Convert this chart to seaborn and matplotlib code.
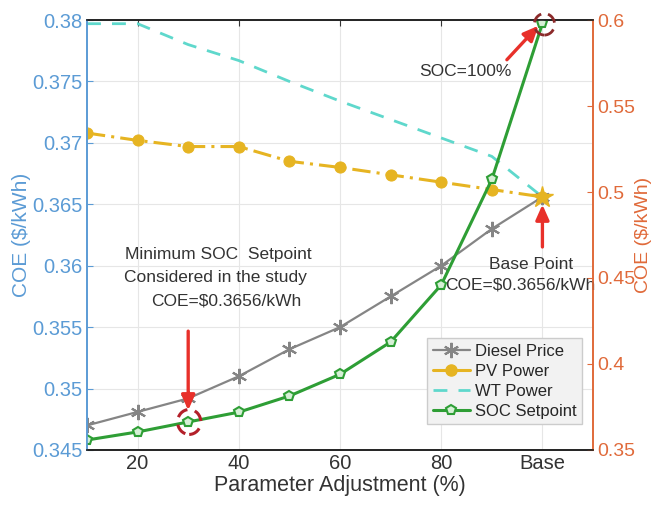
import numpy as np
import pandas as pd
import matplotlib
matplotlib.use("Agg")
import matplotlib.pyplot as plt
from matplotlib.lines import Line2D
from matplotlib.patches import Ellipse
import seaborn as sns

# Parameter adjustment levels (100 = base case)
adjust = [10, 20, 30, 40, 50, 60, 70, 80, 90, 100]
tick_pos = [20, 40, 60, 80, 100]
tick_labels = ["20", "40", "60", "80", "Base"]

# Cost of energy ($/kWh), left axis
diesel_price = [0.3470, 0.3481, 0.3492, 0.3510, 0.3532, 0.3550, 0.3575, 0.3600, 0.3630, 0.3656]
pv_power = [0.3708, 0.3702, 0.3697, 0.3697, 0.3685, 0.3680, 0.3674, 0.3668, 0.3662, 0.3656]
wt_power = [0.3797, 0.3797, 0.3780, 0.3767, 0.3750, 0.3734, 0.3719, 0.3704, 0.3689, 0.3656]
# Cost of energy ($/kWh), right axis
soc_setpoint = [0.3558, 0.3605, 0.3663, 0.3720, 0.3814, 0.3940, 0.4128, 0.4460, 0.5073, 0.5980]

c_left = "#5b9bd5"
c_right = "#e06a3a"
c_diesel = "#858585"
c_pv = "#e6b422"
c_wt = "#5fd8cc"
c_soc = "#2e9e35"
c_red = "#e8302a"

sns.set_style("whitegrid", {"grid.color": "#e6e6e6"})
plt.rcParams["font.family"] = ["Liberation Sans", "DejaVu Sans"]

df = pd.DataFrame({"adjust": adjust, "diesel": diesel_price, "pv": pv_power,
                   "wt": wt_power, "soc": soc_setpoint})

fig = plt.figure(figsize=(6.56, 5.08), dpi=100)
ax = fig.add_axes([0.1326, 0.1142, 0.7714, 0.8464])
ax2 = ax.twinx()

asterisk = (6, 2, 0)
sns.lineplot(data=df, x="adjust", y="wt", ax=ax, color=c_wt, lw=2.0,
             linestyle=(0, (5, 4)), legend=False)
sns.lineplot(data=df, x="adjust", y="pv", ax=ax, color=c_pv, lw=2.2,
             linestyle=(0, (6, 2, 1, 2)), marker="o", markersize=8,
             markeredgecolor=c_pv, legend=False)
sns.lineplot(data=df, x="adjust", y="diesel", ax=ax, color=c_diesel, lw=1.6,
             marker=asterisk, markersize=11, markeredgecolor=c_diesel,
             markeredgewidth=1.5, legend=False)
# base point marker
ax.plot([100], [pv_power[-1]], marker="*", markersize=16, color=c_pv,
        markeredgecolor=c_pv, zorder=5)

sns.lineplot(data=df, x="adjust", y="soc", ax=ax2, color=c_soc, lw=2.2,
             marker="p", markersize=7, markerfacecolor="#d6f0d6",
             markeredgecolor=c_soc, markeredgewidth=1.5, legend=False)

ax.set_xlim(10, 110)
ax.set_ylim(0.345, 0.38)
ax2.set_ylim(0.35, 0.6)
ax.set_xticks(tick_pos)
ax.set_xticklabels(tick_labels)
ax.set_yticks([0.345, 0.35, 0.355, 0.36, 0.365, 0.37, 0.375, 0.38])
ax.set_yticklabels(["0.345", "0.35", "0.355", "0.36", "0.365", "0.37", "0.375", "0.38"])
ax2.set_yticks([0.35, 0.4, 0.45, 0.5, 0.55, 0.6])
ax2.set_yticklabels(["0.35", "0.4", "0.45", "0.5", "0.55", "0.6"])
ax2.grid(False)

ax.set_xlabel("Parameter Adjustment (%)", fontsize=15.5, color="#333333", labelpad=1)
ax.set_ylabel("COE ($/kWh)", fontsize=15, color=c_left, labelpad=1)
ax2.set_ylabel("COE ($/kWh)", fontsize=14, color=c_right, labelpad=0)

ax.tick_params(axis="x", labelsize=14.5, colors="#333333", direction="in", length=4, pad=3)
ax.tick_params(axis="y", labelsize=14.5, colors=c_left, direction="in", length=4, pad=3)
ax2.tick_params(axis="y", labelsize=14, colors=c_right, direction="in", length=4, pad=3)
ax.tick_params(axis="x", top=True, direction="in")

for a in (ax, ax2):
    for s in a.spines.values():
        s.set_visible(True)
        s.set_linewidth(1.2)
    a.spines["top"].set_color("#222222")
    a.spines["bottom"].set_color("#222222")
    a.spines["left"].set_color(c_left)
    a.spines["right"].set_color(c_right)

# annotations
txt = dict(fontsize=12.5, color="#333333", ha="center", va="center")
ax.text(35.9, 0.3609, "Minimum SOC  Setpoint", **txt)
ax.text(35.3, 0.3590, "Considered in the study", **txt)
ax.text(37.5, 0.3571, "COE=$0.3656/kWh", **txt)
ax.text(84.7, 0.3758, "SOC=100%", **txt)
ax.text(97.7, 0.3601, "Base Point", **txt)
ax.text(95.6, 0.3584, "COE=$0.3656/kWh", **txt)

arrow = dict(arrowstyle="-|>,head_length=0.9,head_width=0.4", color=c_red, lw=2.4)
ax.annotate("", xy=(30, 0.3480), xytext=(30, 0.3549), arrowprops=arrow)
ax.annotate("", xy=(100, 0.3652), xytext=(100, 0.3613), arrowprops=arrow)
ax.annotate("", xy=(99.6, 0.3797), xytext=(92.6, 0.3766), arrowprops=arrow)

ax2.add_patch(Ellipse((30.2, 0.3663), 4.6, 0.0145, fill=False, ec="#b3202a",
                      lw=2.2, ls=(0, (4, 2.5)), zorder=6))
ax2.add_patch(Ellipse((100.4, 0.5975), 4.0, 0.0125, fill=False, ec="#8c2a2a",
                      lw=2.0, ls=(0, (4, 2.5)), zorder=6, clip_on=False))

handles = [
    Line2D([], [], color=c_diesel, lw=1.6, marker=asterisk, markersize=11,
           markeredgewidth=1.5, label="Diesel Price"),
    Line2D([], [], color=c_pv, lw=2.2, marker="o", markersize=8, label="PV Power"),
    Line2D([], [], color=c_wt, lw=2.0, linestyle=(0, (5, 4)), label="WT Power"),
    Line2D([], [], color=c_soc, lw=2.2, marker="p", markersize=7,
           markerfacecolor="#d6f0d6", markeredgewidth=1.5, label="SOC Setpoint"),
]
leg = ax2.legend(handles=handles, loc="lower right", bbox_to_anchor=(0.995, 0.04),
                 fontsize=12, frameon=True, fancybox=False, framealpha=1,
                 facecolor="#f2f2f2", edgecolor="#cccccc", handlelength=2.2,
                 handletextpad=0.3, borderpad=0.35, labelspacing=0.3)
leg.get_frame().set_linewidth(1.0)

fig.savefig("out.png", dpi=100)
